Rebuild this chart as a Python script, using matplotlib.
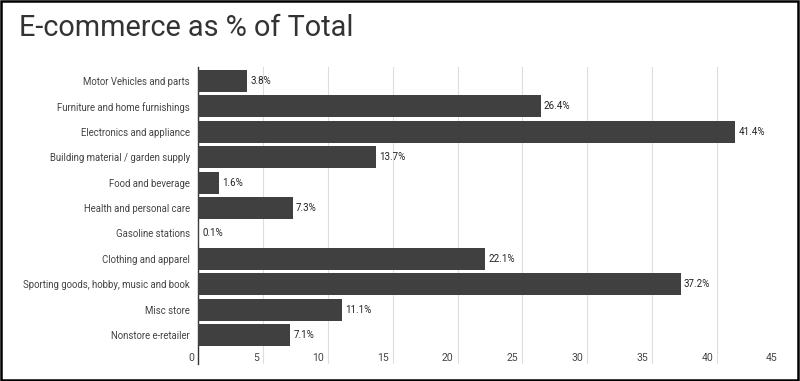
import matplotlib.pyplot as plt
import matplotlib.transforms as mtransforms

plt.rcParams['font.family'] = ['Roboto', 'DejaVu Sans']

categories = ["Motor Vehicles and parts", "Furniture and home furnishings",
              "Electronics and appliance", "Building material / garden supply",
              "Food and beverage", "Health and personal care", "Gasoline stations",
              "Clothing and apparel", "Sporting goods, hobby, music and book",
              "Misc store", "Nonstore e-retailer"]
values = [3.8, 26.4, 41.4, 13.7, 1.6, 7.3, 0.1, 22.1, 37.2, 11.1, 7.1]
x_ticks = [0, 5, 10, 15, 20, 25, 30, 35, 40, 45]

fig = plt.figure(figsize=(8, 3.81), dpi=100)
fig.patch.set_facecolor("white")
# black frame round the picture
fig.add_artist(plt.Rectangle((0.001, 0.002), 0.997, 0.995, transform=fig.transFigure,
                             fill=False, edgecolor="black", linewidth=1.8))

fig.text(0.024, 0.905, "E-commerce as % of Total", fontsize=20.8, color="#333333",
         ha="left", va="baseline")

ax = fig.add_axes([0.2475, 1 - 364 / 381, 0.9775 - 0.2475, (364 - 67) / 381])
pos = list(range(len(categories)))
ax.barh(pos, values, height=0.87, color="#404040", zorder=3)
ax.set_xlim(0, 45)
ax.set_ylim(11.14, -0.55)

for y, v in zip(pos, values):
    ax.text(v + 0.25, y, "%.1f%%" % v, va="center", ha="left", fontsize=7, color="#222222")

ax.set_yticks(pos)
ax.set_yticklabels(categories, fontsize=6.9, color="#444444")
ax.tick_params(axis="y", length=0, pad=6)

# x tick labels sit inside the plot, left of each gridline
ax.set_xticks([])
off = mtransforms.offset_copy(ax.transData, fig=fig, x=-4, y=0, units="dots")
for t in x_ticks:
    ax.text(t, 10.9, str(t), transform=off, ha="right", va="center",
            fontsize=7.5, color="#444444")
    if t > 0:
        ax.axvline(t, color="#dedede", linewidth=0.8, zorder=1)

for s in ["top", "right", "bottom"]:
    ax.spines[s].set_visible(False)
ax.spines["left"].set_color("#333333")
ax.spines["left"].set_linewidth(1.0)
ax.spines["left"].set_zorder(2)

fig.savefig("out.png", dpi=100)
